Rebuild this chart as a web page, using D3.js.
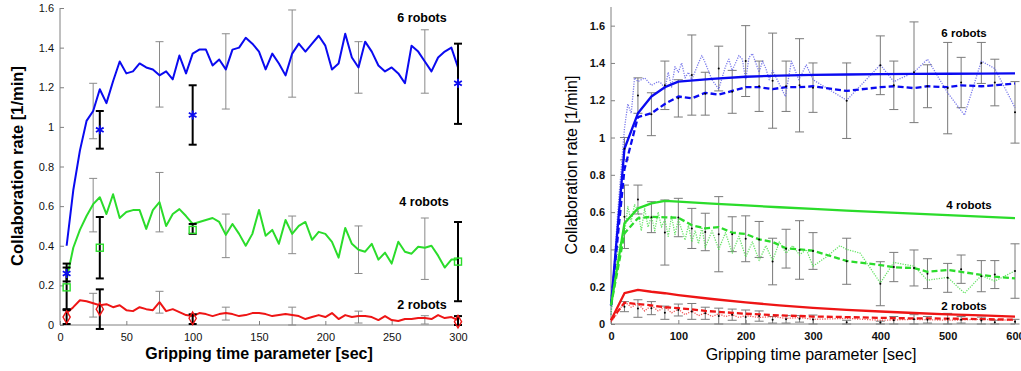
<!DOCTYPE html>
<html>
<head>
<meta charset="utf-8">
<script src="https://cdn.jsdelivr.net/npm/d3@7"></script>
<style>
  body { margin: 0; background: #fff; }
  svg { display: block; font-family: "Liberation Sans", Arial, sans-serif; }
  .axis line, .axis path { stroke: #808080; }
  .tick text { fill: #111; }
</style>
</head>
<body>
<svg id="chart" width="1021" height="371"></svg>
<script>
// ---- left panel: simulation (lines), gray error bars, measured points ----
const leftX = d3.range(5, 305, 5);
const left6 = [0.40,0.68,0.88,1.03,1.08,1.19,1.12,1.23,1.33,1.27,1.28,1.32,1.30,1.29,1.26,1.28,1.24,1.36,1.27,1.37,
  1.39,1.39,1.31,1.34,1.29,1.39,1.40,1.45,1.42,1.38,1.29,1.37,1.32,1.26,1.37,1.42,1.38,1.42,1.46,1.41,
  1.29,1.32,1.47,1.35,1.30,1.43,1.38,1.31,1.28,1.30,1.27,1.22,1.41,1.38,1.33,1.28,1.35,1.38,1.40,1.30];
const left4 = [0.23,0.39,0.48,0.55,0.61,0.645,0.56,0.66,0.54,0.57,0.58,0.58,0.485,0.58,0.62,0.50,0.56,0.585,0.55,0.51,
  0.52,0.53,0.54,0.52,0.455,0.51,0.46,0.40,0.46,0.58,0.45,0.48,0.41,0.53,0.46,0.50,0.52,0.43,0.47,0.46,
  0.42,0.34,0.49,0.41,0.38,0.37,0.41,0.33,0.365,0.31,0.42,0.37,0.36,0.395,0.39,0.40,0.35,0.29,0.33,0.33];
const left2 = [0.06,0.09,0.125,0.12,0.11,0.10,0.105,0.09,0.10,0.075,0.07,0.09,0.08,0.075,0.115,0.07,0.08,0.065,0.05,0.045,
  0.06,0.055,0.045,0.055,0.06,0.055,0.045,0.05,0.06,0.06,0.055,0.045,0.05,0.055,0.05,0.045,0.03,0.04,0.05,0.04,
  0.06,0.03,0.05,0.04,0.045,0.045,0.04,0.025,0.045,0.025,0.02,0.03,0.03,0.035,0.035,0.03,0.05,0.035,0.04,0.025];

const leftBarX = [25, 75, 125, 175, 225, 275];
const leftBar6Lo = [0.94, 1.10, 1.09, 1.15, 1.17, 1.17];
const leftBar6Hi = [1.22, 1.43, 1.47, 1.59, 1.43, 1.49];
const leftBar4Lo = [0.47, 0.47, 0.34, 0.36, 0.26, 0.23];
const leftBar4Hi = [0.74, 0.77, 0.56, 0.55, 0.50, 0.54];
const leftBar2Lo = [0.04, 0.06, 0.025, 0.0, 0.01, 0.005];
const leftBar2Hi = [0.16, 0.17, 0.09, 0.09, 0.07, 0.047];

const measX = [5, 30, 100, 300];
const meas6 = [0.26, 0.985, 1.06, 1.22];
const meas6Lo = [0.22, 0.89, 0.91, 1.015];
const meas6Hi = [0.31, 1.08, 1.21, 1.42];
const meas4 = [0.19, 0.39, 0.48, 0.32];
const meas4Lo = [0.08, 0.235, 0.46, 0.12];
const meas4Hi = [0.29, 0.545, 0.51, 0.52];
const meas2 = [0.04, 0.08, 0.034, 0.017];
const meas2Lo = [0.005, -0.02, 0.005, 0.0];
const meas2Hi = [0.075, 0.18, 0.054, 0.045];

// ---- right panel: model (solid), mean (dashed), single runs (dotted) ----
const solidX = [0, 20, 40, 60, 80, 100, 150, 200, 250, 300, 350, 400, 450, 500, 550, 600];
const solid6 = [0.10, 0.94, 1.13, 1.22, 1.27, 1.30, 1.315, 1.326, 1.332, 1.336, 1.338, 1.34, 1.341, 1.342, 1.343, 1.344];
const solid4 = [0.10, 0.54, 0.62, 0.647, 0.66, 0.656, 0.646, 0.636, 0.626, 0.617, 0.608, 0.6, 0.592, 0.584, 0.576, 0.568];
const solid2 = [0.02, 0.165, 0.183, 0.173, 0.165, 0.155, 0.134, 0.116, 0.1, 0.087, 0.076, 0.067, 0.059, 0.052, 0.046, 0.04];

const dashX = [0,20,40,60,80,100,120,140,160,180,200,220,240,260,280,300,350,400,420,450,470,500,520,550,570,600];
const dash6 = [0.10,0.83,1.11,1.13,1.18,1.22,1.21,1.24,1.23,1.25,1.27,1.27,1.26,1.27,1.27,1.275,1.25,1.27,1.275,1.265,1.275,1.27,1.28,1.275,1.28,1.29];
const dash4 = [0.10,0.486,0.567,0.575,0.572,0.57,0.53,0.513,0.52,0.49,0.483,0.454,0.44,0.406,0.40,0.393,0.338,0.316,0.304,0.30,0.28,0.29,0.28,0.263,0.254,0.245];
const dash2 = [0.02,0.114,0.107,0.10,0.09,0.085,0.078,0.07,0.065,0.06,0.055,0.052,0.048,0.045,0.043,0.04,0.037,0.033,0.032,0.03,0.03,0.029,0.028,0.026,0.025,0.023];

const dot6X = [0,10,20,25,30,35,40,50,60,70,75,80,85,90,95,100,105,110,115,120,130,135,140,150,160,170,175,180,190,195,
  200,205,210,220,225,230,235,240,259,268,279,290,300,350,400,420,450,470,500,525,550,570,600];
const dot6 = [0.05,0.6,1.05,1.18,1.13,1.32,1.30,1.32,1.28,1.30,1.29,1.26,1.35,1.27,1.38,1.35,1.40,1.32,1.35,1.31,
  1.40,1.44,1.40,1.31,1.26,1.38,1.42,1.36,1.44,1.42,1.31,1.43,1.45,1.35,1.41,1.37,1.31,1.36,1.22,1.41,
  1.31,1.39,1.31,1.20,1.39,1.30,1.35,1.42,1.24,1.12,1.41,1.37,1.16];
const dot4X = [0,10,20,25,30,35,40,45,50,55,60,65,70,75,80,85,90,95,100,110,115,120,125,130,135,140,150,160,170,180,
  190,200,210,220,230,240,250,260,270,280,290,300,320,340,350,370,400,420,450,470,500,525,550,570,600];
const dot4 = [0.05,0.40,0.48,0.63,0.55,0.64,0.61,0.50,0.62,0.52,0.58,0.50,0.60,0.52,0.56,0.47,0.58,0.48,0.56,0.45,
  0.53,0.44,0.50,0.43,0.52,0.41,0.50,0.40,0.49,0.38,0.47,0.36,0.44,0.34,0.42,0.34,0.44,0.38,0.42,0.37,
  0.40,0.31,0.36,0.42,0.40,0.38,0.22,0.33,0.31,0.235,0.25,0.165,0.26,0.23,0.285];
const dot2X = [0,10,20,30,40,50,60,70,80,90,100,110,120,130,140,150,160,170,180,190,200,220,240,260,280,300,350,400,450,500,550,600];
const dot2 = [0.01,0.06,0.12,0.09,0.11,0.07,0.10,0.07,0.09,0.06,0.08,0.05,0.07,0.045,0.06,0.04,0.055,0.04,0.05,0.035,
  0.045,0.035,0.04,0.03,0.035,0.025,0.03,0.02,0.025,0.02,0.025,0.02];

const rightBarX = [20,40,60,80,100,120,140,160,180,200,220,240,260,280,300,350,400,420,450,470,500,520,550,570,600];
const rBar6Lo = [0.88,1.13,1.01,1.15,1.11,1.12,1.12,1.25,1.13,1.22,1.14,1.05,1.14,1.03,1.135,0.995,1.23,1.15,1.08,1.16,1.02,1.16,1.29,1.17,0.97];
const rBar6Hi = [1.00,1.32,1.24,1.41,1.31,1.55,1.35,1.49,1.36,1.60,1.41,1.56,1.41,1.53,1.40,1.40,1.545,1.41,1.62,1.39,1.51,1.43,1.51,1.42,1.30];
const rBar4Lo = [0.405,0.59,0.49,0.316,0.468,0.405,0.393,0.28,0.388,0.334,0.357,0.21,0.30,0.24,0.293,0.213,0.098,0.227,0.204,0.19,0.17,0.218,0.173,0.19,0.138];
const rBar4Hi = [0.745,0.745,0.656,0.665,0.674,0.62,0.594,0.683,0.575,0.58,0.55,0.46,0.508,0.554,0.49,0.46,0.334,0.384,0.397,0.35,0.325,0.37,0.34,0.34,0.43];
const rBar2Lo = [0.066,0.036,0.05,0.025,0.043,0.025,0.025,0.0,0.02,0.0,0.015,0.005,0.005,0.01,0.0,0.0,0.0,0.0,0.0,0.005,0.0,0.005,0.0,0.0,0.0];
const rBar2Hi = [0.12,0.13,0.12,0.096,0.107,0.11,0.09,0.085,0.08,0.075,0.07,0.04,0.045,0.045,0.048,0.02,0.015,0.04,0.05,0.04,0.057,0.04,0.037,0.02,0.025];

const yTicks = [0, 0.2, 0.4, 0.6, 0.8, 1, 1.2, 1.4, 1.6];
const leftXTicks = [0, 50, 100, 150, 200, 250, 300];
const rightXTicks = [0, 100, 200, 300, 400, 500, 600];

const BLUE = '#0a0af0', GREEN = '#2bdc2b', RED = '#ee1515';

const svg = d3.select('#chart');
const zip = (xs, ys) => xs.map((x, i) => [x, ys[i]]);

function drawAxes(x, y, xTicks, bold) {
  const weight = bold ? 'bold' : 'normal';
  const gx = svg.append('g').attr('class', 'axis')
    .attr('transform', `translate(0,${y.range()[0]})`)
    .call(d3.axisBottom(x).tickValues(xTicks).tickSize(-4).tickPadding(8).tickFormat(d3.format('d')));
  gx.selectAll('text').style('font-size', '11px').style('font-weight', weight);
  const gy = svg.append('g').attr('class', 'axis')
    .attr('transform', `translate(${x.range()[0]},0)`)
    .call(d3.axisLeft(y).tickValues(yTicks).tickSize(-4).tickPadding(6).tickFormat(d => String(+d.toFixed(1))));
  gy.selectAll('text').style('font-size', '11px').style('font-weight', weight);
  gx.select('.domain').attr('d', `M${x.range()[0]},0H${x.range()[1]}`);
  gy.select('.domain').attr('d', `M0,${y.range()[0]}V${y.range()[1]}`);
}

function errorBars(x, y, xs, lo, hi, color, width, cap) {
  const g = svg.append('g').attr('stroke', color).attr('stroke-width', width).attr('fill', 'none');
  xs.forEach((v, i) => {
    const px = x(v), y0 = y(lo[i]), y1 = y(hi[i]);
    g.append('line').attr('x1', px).attr('x2', px).attr('y1', y0).attr('y2', y1);
    g.append('line').attr('x1', px - cap).attr('x2', px + cap).attr('y1', y0).attr('y2', y0);
    g.append('line').attr('x1', px - cap).attr('x2', px + cap).attr('y1', y1).attr('y2', y1);
  });
}

function path(x, y, pts, color, width, dash, opacity) {
  svg.append('path').datum(pts)
    .attr('fill', 'none').attr('stroke', color).attr('stroke-width', width)
    .attr('stroke-dasharray', dash || null).attr('stroke-opacity', opacity || 1)
    .attr('stroke-linejoin', 'round')
    .attr('d', d3.line().x(d => x(d[0])).y(d => y(d[1])));
}

function label(px, py, text, size, weight, rotate) {
  const t = svg.append('text').attr('text-anchor', 'middle')
    .style('font-size', size + 'px').style('font-weight', weight).attr('fill', '#000').text(text);
  if (rotate) t.attr('transform', `translate(${px},${py}) rotate(-90)`);
  else t.attr('x', px).attr('y', py);
}

// ===== left panel =====
const xL = d3.scaleLinear().domain([0, 300]).range([60, 458]);
const yL = d3.scaleLinear().domain([0, 1.6]).range([325, 8]);
drawAxes(xL, yL, leftXTicks, false);

errorBars(xL, yL, leftBarX, leftBar6Lo, leftBar6Hi, '#8a8a8a', 1, 4);
errorBars(xL, yL, leftBarX, leftBar4Lo, leftBar4Hi, '#8a8a8a', 1, 4);
errorBars(xL, yL, leftBarX, leftBar2Lo, leftBar2Hi, '#8a8a8a', 1, 4);

path(xL, yL, zip(leftX, left6), BLUE, 2);
path(xL, yL, zip(leftX, left4), GREEN, 2);
path(xL, yL, zip(leftX, left2), RED, 2);

errorBars(xL, yL, measX, meas6Lo, meas6Hi, '#000', 2, 4);
errorBars(xL, yL, measX, meas4Lo, meas4Hi, '#000', 2, 4);
errorBars(xL, yL, measX, meas2Lo, meas2Hi, '#000', 2, 4);

const star = d3.symbol().type(d3.symbolAsterisk).size(55);
svg.append('g').selectAll('path').data(zip(measX, meas6)).join('path')
  .attr('transform', d => `translate(${xL(d[0])},${yL(d[1])})`)
  .attr('d', star).attr('fill', 'none').attr('stroke', BLUE).attr('stroke-width', 1.8);
svg.append('g').selectAll('rect').data(zip(measX, meas4)).join('rect')
  .attr('x', d => xL(d[0]) - 3.5).attr('y', d => yL(d[1]) - 3.5).attr('width', 7).attr('height', 7)
  .attr('fill', 'none').attr('stroke', GREEN).attr('stroke-width', 1.4);
const diamond = d3.symbol().type(d3.symbolDiamond).size(45);
svg.append('g').selectAll('path').data(zip(measX, meas2)).join('path')
  .attr('transform', d => `translate(${xL(d[0])},${yL(d[1])})`)
  .attr('d', diamond).attr('fill', 'none').attr('stroke', RED).attr('stroke-width', 1.4);

label(422, 22, '6 robots', 12.5, 'bold');
label(424, 206, '4 robots', 12.5, 'bold');
label(422, 309, '2 robots', 12.5, 'bold');
label(259, 359, 'Gripping time parameter [sec]', 16, 'bold');
label(23, 166, 'Collaboration rate [1/min]', 16.5, 'bold', true);

// ===== right panel =====
const xR = d3.scaleLinear().domain([0, 600]).range([611, 1015]);
const yR = d3.scaleLinear().domain([0, 1.7]).range([324, 7]);
drawAxes(xR, yR, rightXTicks, true);

[[rBar6Lo, rBar6Hi], [rBar4Lo, rBar4Hi], [rBar2Lo, rBar2Hi]].forEach(([lo, hi]) => {
  errorBars(xR, yR, rightBarX, lo, hi, '#7a7a7a', 1, 4.5);
});

path(xR, yR, zip(dot6X, dot6), '#5a5ae6', 1.3, '1.2,1.3', 0.8);
path(xR, yR, zip(dot4X, dot4), '#40dd40', 1.3, '1.2,1.3', 0.8);
path(xR, yR, zip(dot2X, dot2), '#ee3030', 1.3, '1.2,1.3', 0.8);

path(xR, yR, zip(dashX, dash6), BLUE, 2.3, '6,3');
path(xR, yR, zip(dashX, dash4), GREEN, 2.3, '6,3');
path(xR, yR, zip(dashX, dash2), RED, 2.3, '6,3');

path(xR, yR, zip(solidX, solid6), BLUE, 2.3);
path(xR, yR, zip(solidX, solid4), GREEN, 2.3);
path(xR, yR, zip(solidX, solid2), RED, 2.3);

[[rBar6Lo, rBar6Hi], [rBar4Lo, rBar4Hi], [rBar2Lo, rBar2Hi]].forEach(([lo, hi]) => {
  svg.append('g').selectAll('circle').data(rightBarX.map((v, i) => [v, (lo[i] + hi[i]) / 2])).join('circle')
    .attr('cx', d => xR(d[0])).attr('cy', d => yR(d[1])).attr('r', 1).attr('fill', '#000');
});

label(964, 37, '6 robots', 11.5, 'bold');
label(969, 209, '4 robots', 11.5, 'bold');
label(964, 310, '2 robots', 11.5, 'bold');
label(811, 360, 'Gripping time parameter [sec]', 16, 'normal');
label(577, 165, 'Collaboration rate [1/min]', 16, 'normal', true);
</script>
</body>
</html>
